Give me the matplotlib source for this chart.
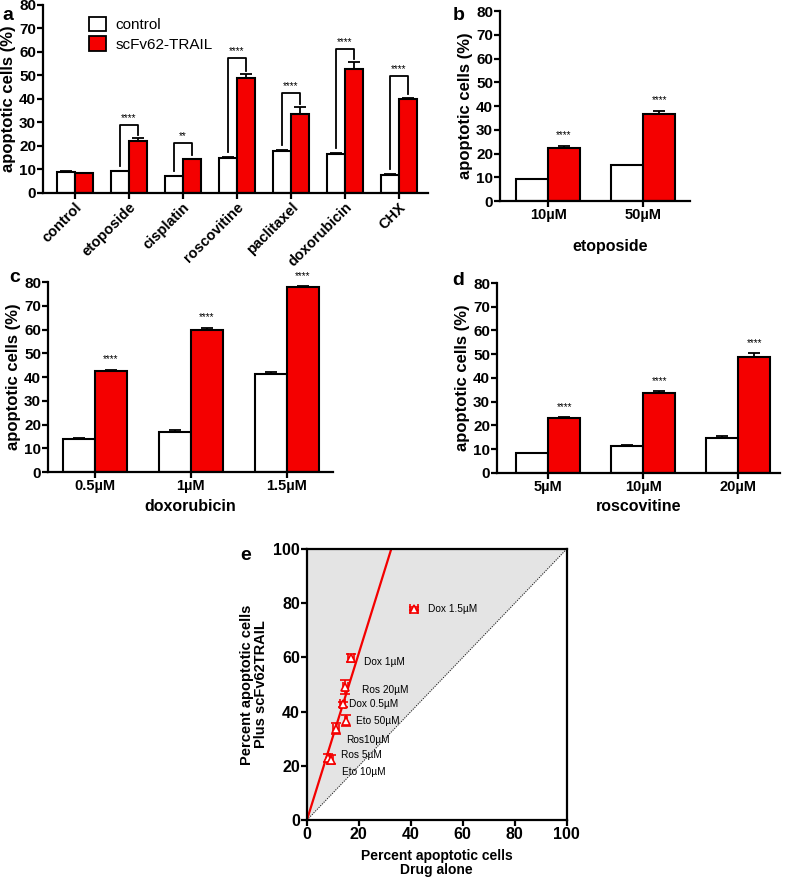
import numpy as np
import matplotlib
matplotlib.use("Agg")
import matplotlib.pyplot as plt
from matplotlib.patches import Patch

plt.rcParams['font.family'] = ['Liberation Sans', 'DejaVu Sans']

RED = "#f40000"

# -------------------------------
# data
# -------------------------------
a_cats = ["control", "etoposide", "cisplatin", "roscovitine", "paclitaxel", "doxorubicin", "CHX"]
a_ctrl = [9.0, 9.3, 7.0, 14.8, 17.7, 16.7, 7.8]
a_ctrl_err = [0.4, 0.2, 0.3, 0.6, 0.7, 0.4, 0.2]
a_trail = [8.3, 22.3, 14.3, 49.0, 33.5, 52.8, 40.0]
a_trail_err = [0.3, 1.0, 0.3, 1.5, 3.0, 2.8, 0.4]
a_sig = ["", "****", "**", "****", "****", "****", "****"]
a_bracket = [None, 29, 21.3, 57.4, 42.6, 61.3, 49.8]

b_cats = ["10µM", "50µM"]
b_ctrl = [9.2, 15.0]
b_ctrl_err = [0.1, 0.2]
b_trail = [22.3, 36.7]
b_trail_err = [1.0, 1.0]

c_cats = ["0.5µM", "1µM", "1.5µM"]
c_ctrl = [13.7, 17.0, 41.3]
c_ctrl_err = [0.5, 0.6, 0.8]
c_trail = [42.7, 59.7, 78.0]
c_trail_err = [0.4, 1.0, 0.3]

d_cats = ["5µM", "10µM", "20µM"]
d_ctrl = [8.3, 11.2, 14.8]
d_ctrl_err = [0.2, 0.7, 0.6]
d_trail = [23.0, 33.7, 49.0]
d_trail_err = [0.4, 0.8, 1.5]

e_names = ["Dox 1.5µM", "Dox 1µM", "Ros 20µM", "Dox 0.5µM", "Eto 50µM", "Ros10µM", "Ros 5µM", "Eto 10µM"]
e_x = [41.3, 17.0, 14.8, 13.7, 15.0, 11.2, 8.3, 9.2]
e_xerr = [1.5, 1.2, 1.0, 0.8, 0.3, 1.2, 0.5, 1.0]
e_y = [78.0, 59.7, 49.0, 42.7, 36.7, 33.7, 23.0, 22.3]
e_yerr = [0.5, 1.5, 2.5, 1.0, 2.0, 2.0, 1.5, 1.5]
e_label_off = [(10, 0), (9, -3), (12, -2), (5, 0), (7, 0), (7, -8), (9, 2), (8, -9)]
e_slope = 3.08


# -------------------------------
# helpers
# -------------------------------
def style_axes(ax, ymax=80, step=10):
    for s in ["top", "right"]:
        ax.spines[s].set_visible(False)
    for s in ["left", "bottom"]:
        ax.spines[s].set_linewidth(1.6)
    ax.set_ylim(0, ymax)
    ax.set_yticks(np.arange(0, ymax + 1, step))
    ax.tick_params(axis="both", width=1.6, length=4, pad=1)
    ax.tick_params(axis="y", labelsize=11)
    ax.tick_params(axis="x", labelsize=10.5)
    for lab in ax.get_yticklabels() + ax.get_xticklabels():
        lab.set_fontweight("bold")
    ax.set_ylabel("apoptotic cells (%)", fontsize=12, fontweight="bold", labelpad=2)


def draw_bars(ax, ctrl, ctrl_err, trail, trail_err, w=0.335):
    x = np.arange(len(ctrl))
    ax.bar(x - w / 2, ctrl, w, color="white", edgecolor="black", linewidth=1.5,
           yerr=[np.zeros(len(ctrl)), ctrl_err], capsize=4,
           error_kw=dict(elinewidth=1.3, capthick=1.3, ecolor="black"))
    ax.bar(x + w / 2, trail, w, color=RED, edgecolor="black", linewidth=1.5,
           yerr=[np.zeros(len(trail)), trail_err], capsize=4,
           error_kw=dict(elinewidth=1.3, capthick=1.3, ecolor="black"))
    ax.set_xticks(x)
    return x


fig = plt.figure(figsize=(7.87, 8.77), dpi=100)

# -------------------------------
# panel a
# -------------------------------
ax_a = fig.add_axes([0.0546, 0.780, 0.489, 0.2144])
w = 0.335
xa = draw_bars(ax_a, a_ctrl, a_ctrl_err, a_trail, a_trail_err, w)
ax_a.set_xlim(-0.59, 6.54)
ax_a.set_xticklabels(a_cats)
style_axes(ax_a)
for lab in ax_a.get_xticklabels():
    lab.set_rotation(45)
    lab.set_ha("right")
    lab.set_rotation_mode("anchor")
for i in range(len(a_cats)):
    if a_bracket[i] is None:
        continue
    top = a_bracket[i]
    x0, x1 = xa[i] - w / 2, xa[i] + w / 2
    y0 = a_ctrl[i] + a_ctrl_err[i] + 2
    y1 = a_trail[i] + a_trail_err[i] + 1.5
    ax_a.plot([x0, x0, x1, x1], [y0, top, top, y1], color="black", lw=1.3)
    ax_a.text((x0 + x1) / 2, top + 0.8, a_sig[i], ha="center", va="bottom", fontsize=7)
ax_a.legend(handles=[Patch(facecolor="white", edgecolor="black", linewidth=1.3, label="control"),
                     Patch(facecolor=RED, edgecolor="black", linewidth=1.3, label="scFv62-TRAIL")],
            loc="upper left", bbox_to_anchor=(0.085, 1.01), frameon=False, fontsize=11,
            handlelength=1.1, handleheight=1.1, handletextpad=0.6, labelspacing=0.25)
fig.text(0.003, 0.992, "a", fontsize=14, fontweight="bold", va="top")

# -------------------------------
# panel b
# -------------------------------
ax_b = fig.add_axes([0.6353, 0.7708, 0.2414, 0.2166])
xb = draw_bars(ax_b, b_ctrl, b_ctrl_err, b_trail, b_trail_err)
ax_b.set_xlim(-0.505, 1.49)
ax_b.set_xticklabels(b_cats)
style_axes(ax_b)
for i in range(len(b_cats)):
    ax_b.text(xb[i] + w / 2, b_trail[i] + b_trail_err[i] + 2.5, "****", ha="center", va="bottom", fontsize=7)
ax_b.set_xlabel("etoposide", fontsize=11.5, fontweight="bold", labelpad=17)
ax_b.xaxis.set_label_coords(0.58, -0.2)
fig.text(0.575, 0.992, "b", fontsize=14, fontweight="bold", va="top")

# -------------------------------
# panel c
# -------------------------------
ax_c = fig.add_axes([0.061, 0.4618, 0.362, 0.2166])
xc = draw_bars(ax_c, c_ctrl, c_ctrl_err, c_trail, c_trail_err)
ax_c.set_xlim(-0.49, 2.48)
ax_c.set_xticklabels(c_cats)
style_axes(ax_c)
for i in range(len(c_cats)):
    ax_c.text(xc[i] + w / 2, c_trail[i] + c_trail_err[i] + 2.3, "****", ha="center", va="bottom", fontsize=7)
ax_c.set_xlabel("doxorubicin", fontsize=11.5, fontweight="bold", labelpad=4)
fig.text(0.012, 0.693, "c", fontsize=14, fontweight="bold", va="top")

# -------------------------------
# panel d
# -------------------------------
ax_d = fig.add_axes([0.6315, 0.4607, 0.3596, 0.2166])
xd = draw_bars(ax_d, d_ctrl, d_ctrl_err, d_trail, d_trail_err)
ax_d.set_xlim(-0.54, 2.44)
ax_d.set_xticklabels(d_cats)
style_axes(ax_d)
for i in range(len(d_cats)):
    ax_d.text(xd[i] + w / 2, d_trail[i] + d_trail_err[i] + 2.3, "****", ha="center", va="bottom", fontsize=7)
ax_d.set_xlabel("roscovitine", fontsize=11.5, fontweight="bold", labelpad=4)
fig.text(0.575, 0.690, "d", fontsize=14, fontweight="bold", va="top")

# -------------------------------
# panel e
# -------------------------------
ax_e = fig.add_axes([0.390, 0.065, 0.330, 0.309])
ax_e.fill_between([0, 100], [0, 100], [100, 100], color="#e4e4e4", lw=0)
ax_e.plot([0, 100], [0, 100], color="black", lw=0.7, ls=(0, (1, 1.5)))
xs = np.array([0, 100 / e_slope])
ax_e.plot(xs, e_slope * xs, color=RED, lw=1.6)
ax_e.errorbar(e_x, e_y, xerr=e_xerr, yerr=e_yerr, fmt="^", ms=6, mfc="white", mec=RED,
              mew=1.2, ecolor=RED, elinewidth=1.2, capsize=3.5, capthick=1.2, zorder=5)
for i, name in enumerate(e_names):
    ax_e.annotate(name, (e_x[i], e_y[i]), xytext=e_label_off[i], textcoords="offset points",
                  fontsize=7.3, va="center", ha="left")
ax_e.set_xlim(0, 100)
ax_e.set_ylim(0, 100)
ax_e.set_xticks(np.arange(0, 101, 20))
ax_e.set_yticks(np.arange(0, 101, 20))
for s in ax_e.spines.values():
    s.set_linewidth(1.6)
ax_e.tick_params(axis="both", width=1.6, length=4, labelsize=11.5, pad=1)
for lab in ax_e.get_yticklabels() + ax_e.get_xticklabels():
    lab.set_fontweight("bold")
ax_e.set_xlabel("Percent apoptotic cells\nDrug alone", fontsize=10, fontweight="bold",
                labelpad=5, linespacing=1.0)
ax_e.set_ylabel("Percent apoptotic cells\nPlus scFv62TRAIL", fontsize=10.5, fontweight="bold",
                labelpad=4, linespacing=1.0)
fig.text(0.305, 0.376, "e", fontsize=14, fontweight="bold", va="top")

fig.savefig("out.png", dpi=100)
